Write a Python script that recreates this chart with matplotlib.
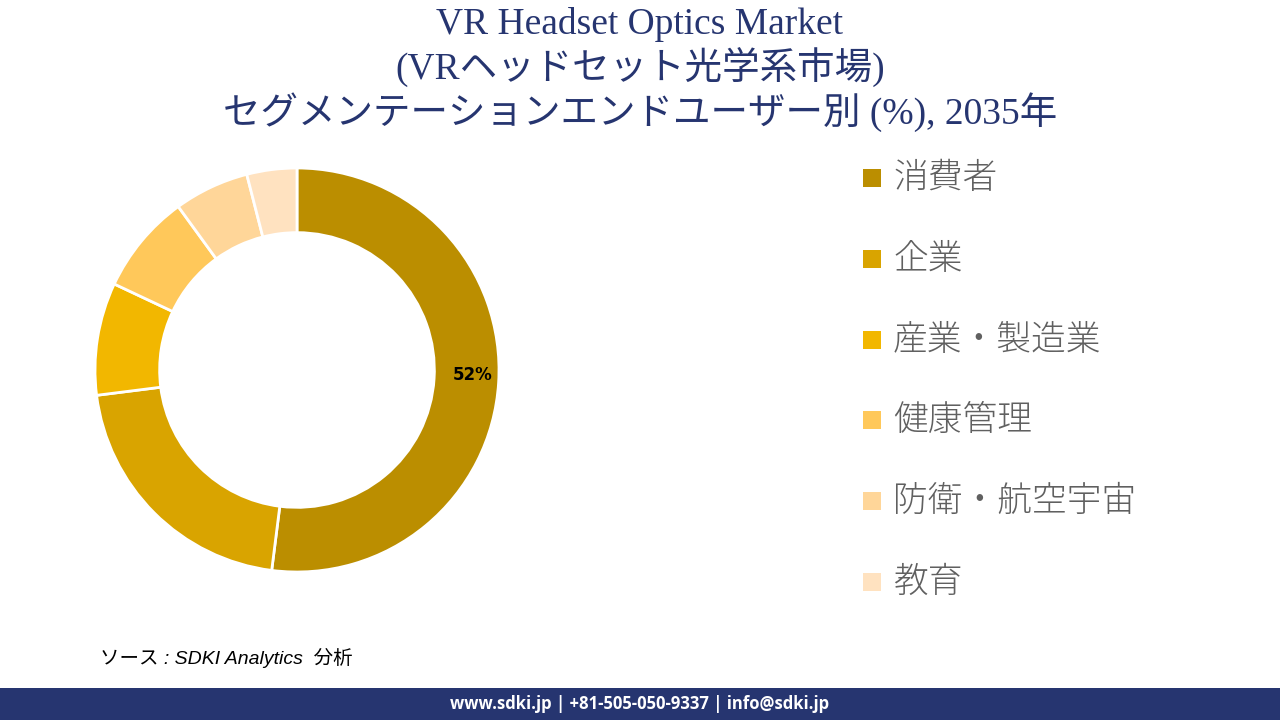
import matplotlib.pyplot as plt
import numpy as np
from matplotlib.patches import Rectangle

# data
segments = ['消費者', '企業', '産業・製造業', '健康管理', '防衛・航空宇宙', '教育']
shares = [52, 21, 9, 8, 6, 4]
colors = ['#BB8E00', '#D9A400', '#F2B700', '#FFC85A', '#FFD699', '#FFE2C0']

title_lines = ['VR Headset Optics Market', '(VRヘッドセット光学系市場)',
               'セグメンテーションエンドユーザー別 (%), 2035年']
source_text = 'ソース : SDKI Analytics  分析'
footer_text = 'www.sdki.jp | +81-505-050-9337 | info@sdki.jp'

navy = '#263570'
serif = ['Liberation Serif', 'Noto Sans CJK JP']
sans = ['Noto Sans CJK JP', 'DejaVu Sans']

fig = plt.figure(figsize=(12.8, 7.2), dpi=100)

# title
for i, line in enumerate(title_lines):
    fig.text(0.5, 1 - (24 + i * 44) / 720, line, ha='center', va='center',
             fontsize=27, color=navy, family=serif)

# donut
ax = fig.add_axes([95 / 1280, 1 - 572 / 720, 404 / 1280, 404 / 720])
wedges, _ = ax.pie(shares, colors=colors, startangle=90, counterclock=False,
                   radius=1, wedgeprops=dict(width=0.32, edgecolor='white', linewidth=2))
ax.set_xlim(-1.0, 1.0)
ax.set_ylim(-1.0, 1.0)
ax.set_aspect('equal')
ax.axis('off')

# label on the biggest slice only
w = wedges[0]
mid = np.deg2rad((w.theta1 + w.theta2) / 2)
ax.text(0.85 * np.cos(mid) + 0.02, 0.85 * np.sin(mid) + 0.03, f'{shares[0]}%', ha='center',
        va='center', fontsize=12, fontweight='bold', color='black', family=['DejaVu Sans'])

# legend
for i, (name, c) in enumerate(zip(segments, colors)):
    y = 1 - (178 + i * 80.8) / 720
    fig.patches.append(Rectangle((863 / 1280, y - 9 / 720), 18 / 1280, 18 / 720,
                                 transform=fig.transFigure, facecolor=c, edgecolor='none'))
    fig.text(893 / 1280, y, name, ha='left', va='center', fontsize=25, fontweight='light',
             color='#606060', family=sans)

# source
fig.text(100 / 1280, 1 - 658 / 720, source_text, ha='left', va='center', fontsize=14,
         style='italic', color='black', family=['Liberation Sans', 'Noto Sans CJK JP'])

# footer band
fig.patches.append(Rectangle((0, 0), 1, 32 / 720, transform=fig.transFigure,
                             facecolor=navy, edgecolor='none'))
fig.text(0.5, 16 / 720, footer_text, ha='center', va='center', fontsize=12,
         fontweight='bold', color='white', family=['Open Sans', 'DejaVu Sans'])

fig.savefig('out.png', dpi=100)
